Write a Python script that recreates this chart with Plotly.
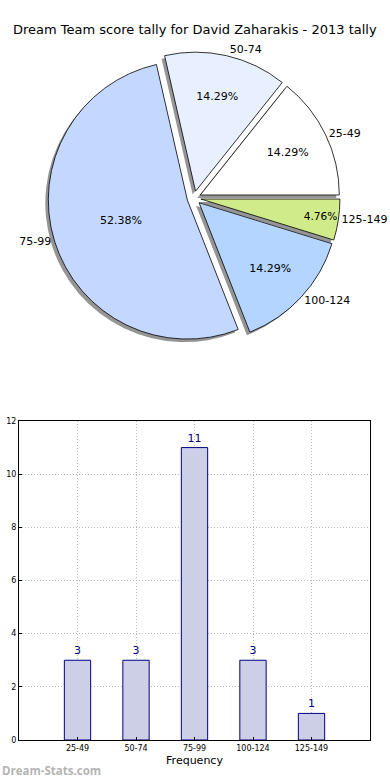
import plotly.graph_objects as go

title = "Dream Team score tally for David Zaharakis - 2013 tally"
categories = ["25-49", "50-74", "75-99", "100-124", "125-149"]
counts = [3, 3, 11, 3, 1]
pie_colors = ["#ffffff", "#e8f0ff", "#c4d8ff", "#b3d5ff", "#d0eb8a"]
y_ticks = [0, 2, 4, 6, 8, 10, 12]

W, H = 390, 780
FONT = "DejaVu Sans"

def px(x):
    return x / W

def py(y):
    return 1 - y / H

# pie geometry (pixels)
cx, cy, half = 194, 198, 146
pull = 0.05
# first slice starts at 3 o'clock and slices run counterclockwise
first_share = counts[0] / sum(counts)
rotation = 90 - 360 * first_share

def dom(dx=0, dy=0):
    return dict(x=[px(cx - half + dx), px(cx + half + dx)],
                y=[py(cy + half + dy), py(cy - half + dy)])

common = dict(labels=categories, values=counts, sort=False, direction="counterclockwise",
              rotation=rotation, pull=[pull] * len(counts), hoverinfo="skip",
              showlegend=False, automargin=False)

fig = go.Figure()
# shadow
fig.add_trace(go.Pie(**common, domain=dom(-3, 3), marker=dict(colors=["#8a8a8a"] * 5,
              line=dict(width=0)), textinfo="none", opacity=0.9))
# main with percentages
fig.add_trace(go.Pie(**common, domain=dom(), marker=dict(colors=pie_colors,
              line=dict(color="#000000", width=0.8)),
              texttemplate="%{percent:.2%}", textposition="inside",
              insidetextorientation="horizontal",
              textfont=dict(family=FONT, size=11, color="#000000")))
# outside labels
fig.add_trace(go.Pie(**common, domain=dom(), marker=dict(colors=["rgba(0,0,0,0)"] * 5,
              line=dict(width=0)), texttemplate="%{label}", textposition="outside",
              textfont=dict(family=FONT, size=11, color="#000000")))

# bar chart
fig.add_trace(go.Bar(x=categories, y=counts, width=0.45, xaxis="x", yaxis="y",
                     marker=dict(color="#cdcfe6", line=dict(color="#000080", width=1)),
                     text=[str(c) for c in counts], textposition="outside",
                     textfont=dict(family=FONT, size=11, color="#000080"),
                     cliponaxis=False, showlegend=False, hoverinfo="skip"))

grid = dict(showgrid=True, gridcolor="#b8b8b8", griddash="1px,2px", gridwidth=1,
            ticks="inside", ticklen=3, tickcolor="#000", tickfont=dict(size=8),
            showline=True, linecolor="#000", mirror=True, linewidth=1,
            zeroline=False, fixedrange=True, automargin=False)

fig.update_layout(
    width=W, height=H, autosize=False,
    margin=dict(l=0, r=0, t=0, b=0, pad=0),
    paper_bgcolor="white", plot_bgcolor="white",
    font=dict(family=FONT, color="#000000"),
    xaxis=dict(domain=[px(19), px(370)], range=[-1, 5], type="category",
               title=dict(text="Frequency", font=dict(size=11), standoff=4), **grid),
    yaxis=dict(domain=[py(740), py(421)], range=[0, 12], tickvals=y_ticks, **grid),
    annotations=[
        dict(text=title, x=px(195), y=py(30), xref="paper", yref="paper",
             xanchor="center", yanchor="middle", showarrow=False,
             font=dict(family=FONT, size=13, color="#000000")),
        dict(text="Score Interval", textangle=-90, x=px(3), y=py(580),
             xref="paper", yref="paper", xanchor="right", yanchor="middle",
             showarrow=False, font=dict(size=11)),
        dict(text="<b>Dream-Stats.com</b>", x=px(0), y=py(770), xref="paper", yref="paper",
             xanchor="left", yanchor="middle", showarrow=False,
             font=dict(family="Open Sans", size=11.5, color="#b4b4b4")),
    ],
)

fig.write_html("out.html",
               config={"responsive": False, "displayModeBar": False},
               post_script=("document.documentElement.style.margin='0';"
                            "document.documentElement.style.overflow='hidden';"
                            "document.body.style.margin='0';"
                            "document.body.style.overflow='hidden';"))
